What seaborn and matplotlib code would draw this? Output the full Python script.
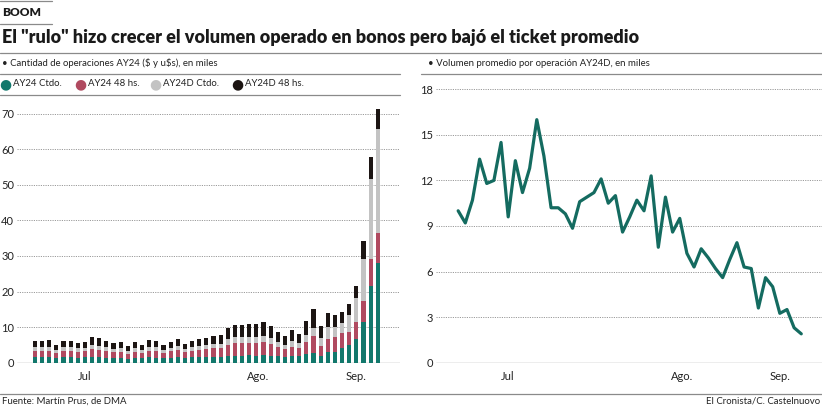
import matplotlib
matplotlib.use("Agg")
import matplotlib.pyplot as plt
from matplotlib.lines import Line2D
import seaborn as sns
import pandas as pd
import numpy as np

# stacked bars: trading days late June -> mid September (miles de operaciones)
ay24_ctdo = [1.5, 1.5, 1.5, 1.2, 1.5, 1.5, 1.4, 1.5, 1.6, 1.6, 1.4, 1.3, 1.4, 1.1, 1.3, 1.2, 1.5,
             1.4, 1.2, 1.4, 1.6, 1.3, 1.5, 1.6, 1.6, 1.7, 1.7, 1.9, 2.0, 2.0, 2.1, 2.0, 2.1, 2.0,
             1.8, 1.6, 1.8, 1.8, 2.4, 2.6, 2.0, 3.0, 3.0, 4.0, 5.0, 6.6, 11.5, 21.6, 28.0]
ay24_48 = [1.8, 1.8, 1.7, 1.4, 1.7, 1.8, 1.7, 1.7, 2.2, 2.1, 1.8, 1.6, 1.7, 1.4, 1.8, 1.6, 1.9,
           1.8, 1.5, 1.8, 2.0, 1.6, 1.9, 2.1, 2.2, 2.4, 2.4, 3.2, 3.5, 3.5, 3.4, 3.5, 3.6, 3.2,
           2.7, 2.2, 2.7, 2.4, 3.4, 4.9, 2.8, 3.6, 4.1, 4.3, 3.6, 4.9, 5.9, 7.5, 8.4]
ay24d_ctdo = [1.2, 1.1, 1.2, 1.0, 1.1, 1.0, 1.0, 1.0, 1.1, 1.1, 1.1, 1.0, 1.0, 0.9, 1.0, 0.9, 1.1,
              1.1, 1.0, 1.0, 1.2, 1.0, 1.0, 1.1, 1.1, 1.2, 1.2, 1.5, 1.7, 1.7, 1.8, 1.8, 1.8, 1.7,
              1.4, 1.3, 1.6, 1.3, 1.9, 2.2, 2.1, 3.5, 2.8, 2.8, 4.7, 6.6, 11.7, 22.6, 29.3]
ay24d_48 = [1.7, 1.6, 1.9, 1.4, 1.7, 1.7, 1.5, 1.6, 2.3, 2.2, 1.7, 1.5, 1.6, 1.3, 1.6, 1.4, 1.8,
            1.7, 1.4, 1.6, 1.8, 1.4, 1.6, 1.9, 2.0, 2.2, 2.5, 3.1, 3.5, 3.4, 3.5, 3.6, 4.0, 3.4,
            2.6, 2.4, 3.2, 2.5, 4.1, 5.4, 3.4, 3.8, 3.4, 3.1, 3.1, 3.5, 5.0, 6.2, 5.7]

# volumen promedio por operacion AY24D (miles)
vol_prom = [10.0, 9.2, 10.7, 13.4, 11.8, 12.0, 14.5, 9.6, 13.3, 11.2, 12.8, 16.0, 13.6, 10.2,
            10.2, 9.8, 8.85, 10.6, 10.9, 11.2, 12.1, 10.5, 11.0, 8.6, 9.6, 10.7, 10.0, 12.3,
            7.6, 10.9, 8.6, 9.5, 7.2, 6.3, 7.5, 6.9, 6.2, 5.6, 6.8, 7.9, 6.3, 6.2, 3.6, 5.6,
            5.0, 3.25, 3.5, 2.3, 1.9]

month_labels = ["Jul", "Ago.", "Sep."]
month_pos = [7.0, 31.3, 45.0]
left_ticks = [0, 10, 20, 30, 40, 50, 60, 70]
right_ticks = [0, 3, 6, 9, 12, 15, 18]

series_names = ["AY24 Ctdo.", "AY24 48 hs.", "AY24D Ctdo.", "AY24D 48 hs."]
colors = ["#12786c", "#b04a60", "#c3c3c3", "#1c1513"]
teal_line = "#146b60"

W, H = 822, 407
FONT = "Lato"
sns.set_theme(style="white")
plt.rcParams["font.family"] = [FONT, "DejaVu Sans"]

fig = plt.figure(figsize=(W / 100, H / 100), dpi=100)


def fx(px):
    return px / W


def fy(py):
    return 1 - py / H


def hline(y, x0, x1, color="#8a8a8a", lw=0.9):
    fig.add_artist(Line2D([fx(x0), fx(x1)], [fy(y), fy(y)], transform=fig.transFigure,
                          color=color, lw=lw))


SMALL = 6.9

# ---- header ----
hline(0.8, 0, 52)
fig.text(fx(2), fy(13), "BOOM", fontsize=8.6, fontweight="heavy", va="center", color="#1a1a1a")
hline(24, 0, 52)
fig.text(fx(2), fy(38), 'El "rulo" hizo crecer el volumen operado en bonos pero bajó el ticket promedio',
         fontsize=13.0, fontweight="heavy", va="center", color="#1a1a1a")
hline(52.5, 0, 822)
fig.text(fx(2), fy(63), r"• Cantidad de operaciones AY24 (\$ y u\$s), en miles", fontsize=SMALL,
         va="center", color="#222")
hline(73.5, 0, 400)
fig.text(fx(428), fy(63), "• Volumen promedio por operación AY24D, en miles", fontsize=SMALL,
         va="center", color="#222")
hline(73.5, 421, 822)

leg_x = [5, 80, 155, 237]
for x, name, c in zip(leg_x, series_names, colors):
    fig.text(fx(x), fy(84), "●", fontsize=10, color=c, va="center", ha="center",
             family="DejaVu Sans")
    fig.text(fx(x + 8), fy(84), name, fontsize=SMALL, color="#222", va="center")
hline(95, 0, 400)

# ---- left: stacked bars ----
ax1 = fig.add_axes([fx(17), fy(362.7), fx(400 - 17), (362.7 - 100) / H])
df = pd.DataFrame({"dia": np.arange(len(ay24_ctdo)), "a": ay24_ctdo, "b": ay24_48,
                   "c": ay24d_ctdo, "d": ay24d_48})
df["c1"] = df["a"]
df["c2"] = df["c1"] + df["b"]
df["c3"] = df["c2"] + df["c"]
df["c4"] = df["c3"] + df["d"]
for col, c in zip(["c4", "c3", "c2", "c1"], colors[::-1]):
    sns.barplot(data=df, x="dia", y=col, color=c, width=0.58, saturation=1, ax=ax1,
                linewidth=0, zorder=3)
ax1.set_xlim(-2.5, 51.1)
ax1.set_ylim(0, (362.7 - 100) / 3.557)

# ---- right: line ----
ax2 = fig.add_axes([fx(436), fy(362.7), fx(822 - 436), (362.7 - 85) / H])
sns.lineplot(x=np.arange(len(vol_prom)), y=vol_prom, color=teal_line, lw=2.3, ax=ax2, zorder=3)
ax2.set_xlim(-3.1, 50.9)
ax2.set_ylim(0, (362.7 - 85) / 15.19)

for ax, ticks in [(ax1, left_ticks), (ax2, right_ticks)]:
    for s in ax.spines.values():
        s.set_visible(False)
    ax.set_facecolor("none")
    ax.set_yticks(ticks)
    ax.set_yticklabels([str(t) for t in ticks])
    for t in ticks[1:]:
        ax.axhline(t, color="#9a9a9a", lw=0.7, ls=(0, (1.2, 1.2)), zorder=1)
    ax.axhline(0, color="#a5a5a5", lw=1.0, zorder=2)
    ax.set_xticks(month_pos)
    ax.set_xticklabels(month_labels)
    ax.tick_params(axis="both", length=0, labelsize=8, colors="#222", pad=2)
    ax.tick_params(axis="x", pad=6)
    ax.set_xlabel("")
    ax.set_ylabel("")
    ax.grid(False)

# ---- footer ----
hline(393.5, 0, 822)
fig.text(fx(2), fy(401), "Fuente: Martín Prus, de DMA", fontsize=SMALL, va="center", color="#222")
fig.text(fx(820), fy(401), "El Cronista/C. Castelnuovo", fontsize=SMALL, va="center", ha="right",
         color="#222")

fig.savefig("out.png", dpi=100)
